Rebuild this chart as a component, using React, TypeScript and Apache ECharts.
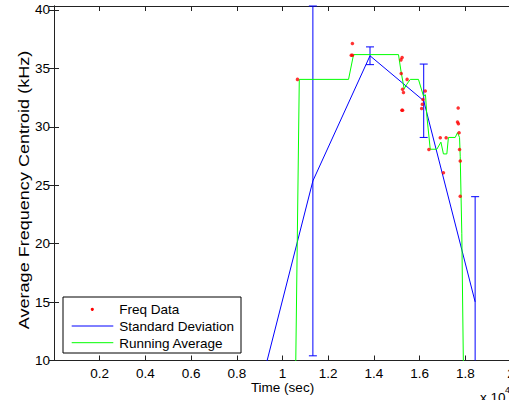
import React, { useEffect, useRef } from "react";
import * as echarts from "echarts";

const freqX = [1.0655, 1.3059, 1.3009, 1.3059, 1.5185, 1.5235, 1.5195, 1.5453, 1.5255, 1.5294, 1.5225, 1.5255, 1.6248, 1.6149, 1.6119, 1.6089, 1.6407, 1.6904, 1.7162, 1.7043, 1.7688, 1.7659, 1.7698, 1.7728, 1.7748, 1.7778, 1.7778];
const freqY = [34.06, 37.13, 36.13, 36.13, 35.73, 35.93, 34.56, 34.06, 33.22, 32.94, 31.41, 31.41, 33.06, 32.33, 31.93, 31.56, 28.06, 29.06, 29.06, 26.06, 31.61, 30.41, 30.27, 29.5, 28.06, 27.07, 24.05];

const stdX = [0.898, 1.133, 1.383, 1.618, 1.843];
const stdY = [7.33, 25.37, 36.08, 32.23, 15.02];
const stdErr = [2.0, 14.97, 0.76, 3.14, 9.0];

const avgX = [1.0516, 1.0735, 1.289, 1.3109, 1.5076, 1.5185, 1.5324, 1.5443, 1.5592, 1.595, 1.6168, 1.6258, 1.6318, 1.6466, 1.6755, 1.6933, 1.7043, 1.7192, 1.7261, 1.7559, 1.7659, 1.7748, 1.7778, 1.7847, 1.7976];
const avgY = [-0.2, 34.06, 34.06, 36.18, 36.18, 34.77, 33.25, 33.65, 34.06, 34.06, 32.64, 32.74, 30.92, 28.08, 28.08, 28.69, 27.68, 27.68, 29.09, 29.09, 29.5, 29.09, 27.48, 20.89, -0.2];

const xTicks = [0, 0.2, 0.4, 0.6, 0.8, 1, 1.2, 1.4, 1.6, 1.8, 2];
const yTicks = [10, 15, 20, 25, 30, 35, 40];

const legendLabels = ["Freq Data", "Standard Deviation", "Running Average"];
const xAxisTitle = "Time (sec)";
const yAxisTitle = "Average Frequency Centroid (kHz)";
const xExponentBase = "x 10";
const xExponent = "4";

const FONT = "Liberation Sans, Arial, sans-serif";
const AXIS_COLOR = "#222";

export default function App() {
  const ref = useRef<HTMLDivElement>(null);
  useEffect(() => {
    if (!ref.current) return;
    const chart = echarts.init(ref.current, undefined, { renderer: "svg" });
    const tick = { inside: true, length: 5, lineStyle: { color: AXIS_COLOR } };
    const line = { lineStyle: { color: AXIS_COLOR, width: 1 } };
    const xFmt = (v: number) => {
      const hit = xTicks.find((t) => Math.abs(t - v) < 1e-6);
      return hit === undefined || hit === 0 ? "" : String(hit);
    };
    const yFmt = (v: number) => {
      const hit = yTicks.find((t) => Math.abs(t - v) < 1e-6);
      return hit === undefined ? "" : String(hit);
    };
    chart.setOption({
      animation: false,
      backgroundColor: "#fff",
      grid: { left: 54, right: -2, top: 6, bottom: 39.5, containLabel: false, outerBoundsMode: "none" },
      xAxis: [
        {
          type: "value",
          min: xTicks[0],
          max: xTicks[xTicks.length - 1],
          interval: 0.2,
          position: "bottom",
          name: xAxisTitle,
          nameLocation: "middle",
          nameGap: 19.5,
          nameMoveOverlap: false,
          nameTextStyle: { fontFamily: FONT, fontSize: 13.5, color: "#000" },
          axisTick: tick,
          axisLine: line,
          splitLine: { show: false },
          axisLabel: { fontFamily: FONT, fontSize: 13.5, color: "#000", margin: 6, formatter: xFmt },
        },
        {
          type: "value",
          min: xTicks[0],
          max: xTicks[xTicks.length - 1],
          interval: 0.2,
          position: "top",
          axisTick: tick,
          axisLine: line,
          splitLine: { show: false },
          axisLabel: { show: false },
        },
      ],
      yAxis: [
        {
          type: "value",
          min: yTicks[0],
          max: 40.34,
          interval: 5,
          position: "left",
          axisTick: tick,
          axisLine: line,
          splitLine: { show: false },
          axisLabel: { fontFamily: FONT, fontSize: 13.5, color: "#000", margin: 4, formatter: yFmt },
        },
        {
          type: "value",
          min: yTicks[0],
          max: 40.34,
          interval: 5,
          position: "right",
          axisTick: tick,
          axisLine: line,
          splitLine: { show: false },
          axisLabel: { show: false },
        },
      ],
      series: [
        {
          name: legendLabels[1],
          type: "line",
          data: stdX.map((x, i) => [x, stdY[i]]),
          showSymbol: false,
          symbol: "none",
          clip: true,
          lineStyle: { color: "#0000ff", width: 1 },
          z: 2,
        },
        {
          name: legendLabels[1] + " bars",
          type: "custom",
          itemStyle: { color: "#0000ff" },
          data: stdX.map((x, i) => [x, stdY[i] - stdErr[i], stdY[i] + stdErr[i]]),
          renderItem: (params: any, api: any) => {
            const cs = params.coordSys;
            const x = api.value(0);
            const lo = api.coord([x, api.value(1)]);
            const hi = api.coord([x, api.value(2)]);
            const top = cs.y;
            const bottom = cs.y + cs.height;
            const y1 = Math.max(hi[1], top);
            const y2 = Math.min(lo[1], bottom);
            if (y1 >= y2) return null;
            const w = 4;
            const px = lo[0];
            const style = { stroke: "#0000ff", lineWidth: 1, fill: null };
            const children: any[] = [
              { type: "line", shape: { x1: px, y1, x2: px, y2 }, style },
            ];
            if (hi[1] >= top - 1) {
              children.push({ type: "line", shape: { x1: px - w, y1: y1, x2: px + w, y2: y1 }, style });
            }
            if (lo[1] <= bottom + 1) {
              children.push({ type: "line", shape: { x1: px - w, y1: y2, x2: px + w, y2: y2 }, style });
            }
            return { type: "group", children };
          },
          z: 2,
        },
        {
          name: legendLabels[2],
          type: "line",
          data: avgX.map((x, i) => [x, avgY[i]]),
          showSymbol: false,
          symbol: "none",
          clip: true,
          lineStyle: { color: "#00ff00", width: 1 },
          z: 3,
        },
        {
          name: legendLabels[0],
          type: "scatter",
          data: freqX.map((x, i) => [x, freqY[i]]),
          symbol: "circle",
          symbolSize: 3.5,
          itemStyle: { color: "#ff0000" },
          z: 4,
        },
      ],
      graphic: [
        {
          type: "text",
          x: 23.5,
          y: 190,
          rotation: Math.PI / 2,
          scaleX: 1.29,
          style: {
            text: yAxisTitle,
            font: `14px ${FONT}`,
            fill: "#000",
            align: "center",
            verticalAlign: "middle",
          },
        },
        {
          type: "group",
          x: 63,
          y: 297,
          z: 100,
          children: [
            { type: "rect", shape: { x: 0, y: 0, width: 178, height: 56 }, style: { fill: "#fff", stroke: "#000", lineWidth: 1 } },
            { type: "circle", shape: { cx: 29.3, cy: 12.3, r: 1.6 }, style: { fill: "#ff0000" } },
            { type: "line", shape: { x1: 8.7, y1: 29, x2: 50.3, y2: 29 }, style: { stroke: "#0000ff", lineWidth: 1 } },
            { type: "line", shape: { x1: 8.7, y1: 45.7, x2: 50.3, y2: 45.7 }, style: { stroke: "#00ff00", lineWidth: 1 } },
            { type: "text", x: 56.3, y: 12.3, style: { text: legendLabels[0], font: `13.5px ${FONT}`, fill: "#000", verticalAlign: "middle" } },
            { type: "text", x: 56.3, y: 29, style: { text: legendLabels[1], font: `13.5px ${FONT}`, fill: "#000", verticalAlign: "middle" } },
            { type: "text", x: 56.3, y: 46.3, style: { text: legendLabels[2], font: `13.5px ${FONT}`, fill: "#000", verticalAlign: "middle" } },
          ],
        },
        {
          type: "text",
          x: 480,
          y: 390,
          style: { text: xExponentBase, font: `13.5px ${FONT}`, fill: "#000" },
        },
        {
          type: "text",
          x: 505,
          y: 385,
          style: { text: xExponent, font: `9px ${FONT}`, fill: "#000" },
        },
      ],
    });
    return () => chart.dispose();
  }, []);
  return <div ref={ref} style={{ position: "absolute", left: 0, top: 0, width: 509, height: 400 }} />;
}
